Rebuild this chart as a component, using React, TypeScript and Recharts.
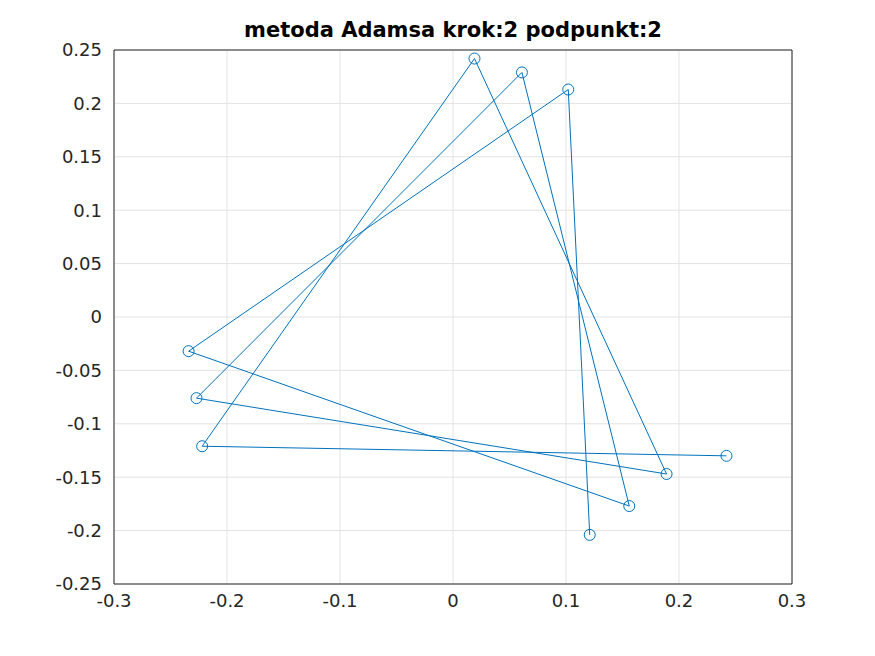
import React from 'react';
import { ScatterChart, Scatter, XAxis, YAxis, CartesianGrid, ReferenceLine } from 'recharts';

const xs = [0.242, -0.222, 0.019, 0.189, -0.227, 0.061, 0.156, -0.234, 0.102, 0.121];
const ys = [-0.130, -0.121, 0.242, -0.147, -0.076, 0.229, -0.177, -0.032, 0.213, -0.204];
const xTicks = [-0.3, -0.2, -0.1, 0, 0.1, 0.2, 0.3];
const yTicks = [-0.25, -0.2, -0.15, -0.1, -0.05, 0, 0.05, 0.1, 0.15, 0.2, 0.25];

const points = xs.map((x, i) => ({ x, y: ys[i] }));
const color = '#0072BD';
const axisColor = '#262626';
const tickStyle = { fill: axisColor, fontSize: 18, fontFamily: 'DejaVu Sans' };

const Ring = (p: any) => (
  <circle cx={p.cx} cy={p.cy} r={5.5} fill="none" stroke={color} strokeWidth={1} />
);

export default function App() {
  return (
    <div style={{ position: 'absolute', left: 0, top: 0, width: 875, height: 656, background: '#fff' }}>
      <div style={{ position: 'absolute', top: 18, left: 114, width: 678, textAlign: 'center', fontFamily: 'DejaVu Sans', fontWeight: 'bold', fontSize: 21, color: '#000' }}>
        metoda Adamsa krok:2 podpunkt:2
      </div>
      <ScatterChart width={875} height={656} margin={{ top: 50, right: 83, bottom: 42, left: 49 }}>
        <CartesianGrid stroke="#e3e3e3" />
        <XAxis type="number" dataKey="x" domain={[-0.3, 0.3]} ticks={xTicks} stroke={axisColor}
          tick={tickStyle} tickLine={false} height={30} tickMargin={4} allowDataOverflow />
        <YAxis type="number" dataKey="y" domain={[-0.25, 0.25]} ticks={yTicks} stroke={axisColor}
          tick={tickStyle} tickLine={false} width={65} tickMargin={6} allowDataOverflow />
        <ReferenceLine x={0.3} stroke={axisColor} />
        <ReferenceLine y={0.25} stroke={axisColor} />
        <Scatter data={points} line={{ stroke: color, strokeWidth: 1 }} shape={<Ring />}
          isAnimationActive={false} />
      </ScatterChart>
    </div>
  );
}
